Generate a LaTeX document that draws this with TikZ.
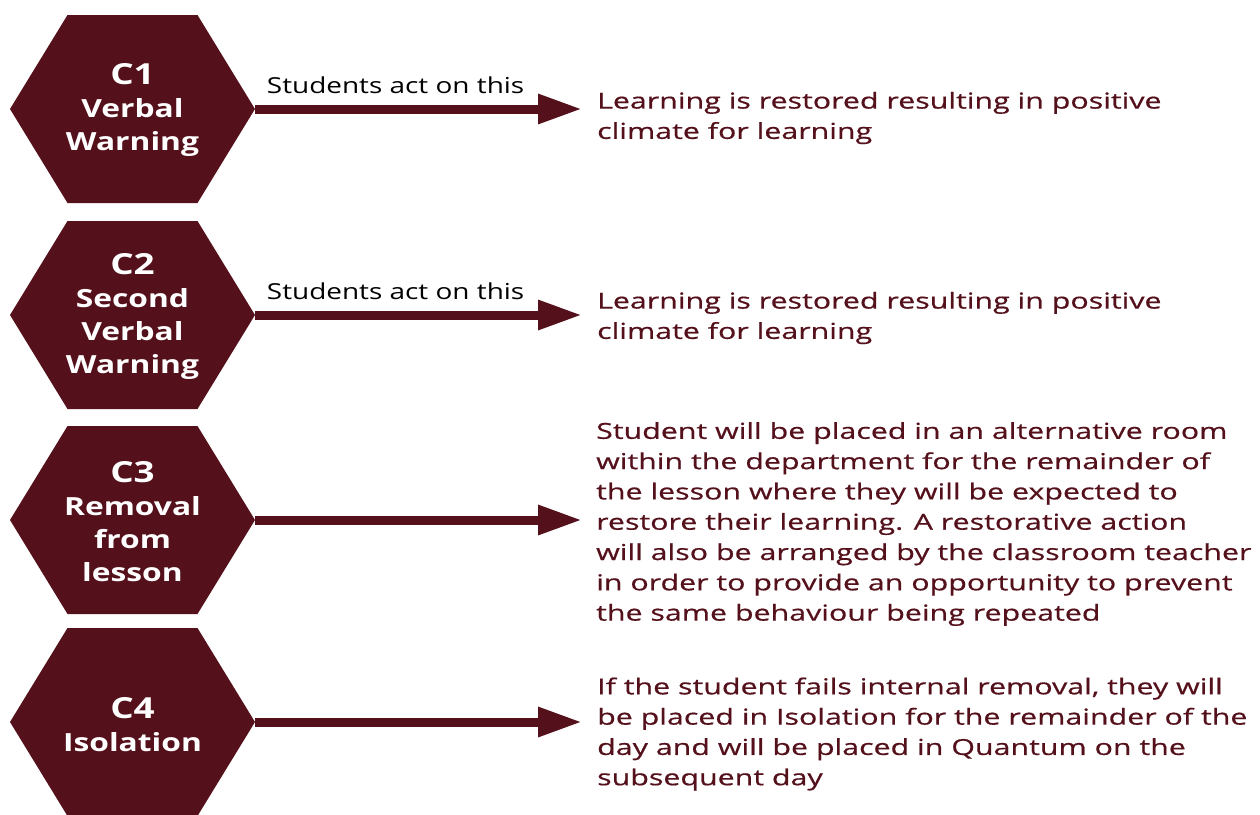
\documentclass[tikz,border=0pt]{standalone}
\usepackage{fontspec}
\setmainfont{Open Sans}[FakeStretch=1.27]
\newfontfamily\outcomefont{Open Sans}[FakeStretch=1.38, FakeBold=0.6]
\usetikzlibrary{arrows.meta, calc}

\definecolor{maroon}{RGB}{84,17,27}

\tikzset{
  hexlabel/.style={text=white, align=center, inner sep=0pt, font=\bfseries\fontsize{25}{33}\selectfont},
  outcome/.style={text=maroon, anchor=west, align=left, inner sep=0pt, font=\outcomefont\fontsize{22}{30.3}\selectfont},
  act/.style={-{Triangle[length=44pt,width=28pt]}, line width=9pt, draw=maroon},
  cue/.style={text=black, inner sep=0pt, font=\fontsize{22}{26}\selectfont},
}

\newcommand{\lvl}[1]{{\fontsize{29}{33}\selectfont #1}}

\begin{document}
\begin{tikzpicture}[x=1pt, y=-1pt]

        \useasboundingbox (0, 0) rectangle (1260, 814);

        % hexagons, with their right tips and the arrow ends
        \foreach \n/\y in {1/109, 2/315, 3/520, 4/722} {
          \fill[maroon] (10, \y) -- ++(57.5, -94) -- ++(130, 0) -- ++(57.5, 94)
            -- ++(-57.5, 94) -- ++(-130, 0) -- cycle;
          \coordinate (t\n) at (255, \y);
          \coordinate (e\n) at (582, \y);
        }

        \node[hexlabel] (c1) at (132.5, 110) {\lvl{C1}\\Verbal\\Warning};
        \node[hexlabel] (c2) at (132.5, 316) {\lvl{C2}\\Second\\Verbal\\Warning};
        \node[hexlabel] (c3) at (132.5, 522) {\lvl{C3}\\Removal\\from\\lesson};
        \node[hexlabel] (c4) at (132.5, 725) {\lvl{C4}\\Isolation};

        \node[outcome] (r1) at (597, 118) {Learning is restored resulting in positive\\climate for learning};
        \node[outcome] (r2) at (597, 318) {Learning is restored resulting in positive\\climate for learning};
        \node[outcome] (r3) at (596, 524) {Student will be placed in an alternative room\\within the department for the remainder of\\the lesson where they will be expected to\\restore their learning. A restorative action\\will also be arranged by the classroom teacher\\in order to provide an opportunity to prevent\\the same behaviour being repeated};
        \node[outcome] (r4) at (597, 734) {If the student fails internal removal, they will\\be placed in Isolation for the remainder of the\\day and will be placed in Quantum on the\\subsequent day};

        \draw[act] (t1) -- (e1) node[cue, pos=0.43, above=11pt] {Students act on this};
        \draw[act] (t2) -- (e2) node[cue, pos=0.43, above=11pt] {Students act on this};
        \draw[act] (t3) -- (e3);
        \draw[act] (t4) -- (e4);

\end{tikzpicture}
\end{document}
